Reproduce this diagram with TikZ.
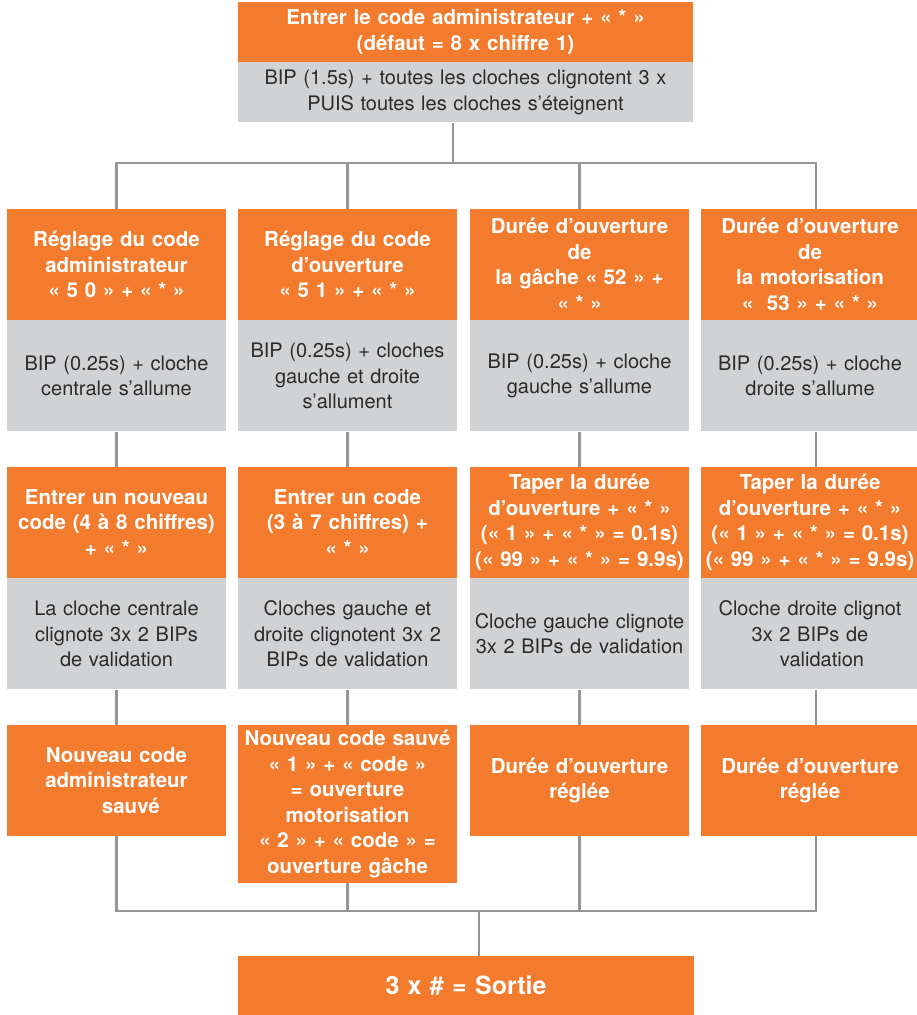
\documentclass[tikz,border=0pt]{standalone}
\usepackage{fontspec}
\setmainfont{TeX Gyre Heros}
\usetikzlibrary{positioning}
\definecolor{orangebox}{HTML}{F37B2E}
\definecolor{graybox}{HTML}{D1D2D4}
\definecolor{linegray}{HTML}{939598}
\definecolor{textgray}{HTML}{2B2B2B}

\begin{document}
\begin{tikzpicture}[x=1pt, y=-1pt,
	hdr/.style={fill=orangebox, text=white, font=\fontsize{20.5}{25.5}\selectfont\bfseries,
		align=center, minimum width=219pt, minimum height=111pt, inner sep=0pt, text width=217pt},
	msg/.style={hdr, fill=graybox, text=textgray, font=\fontsize{20}{25.5}\selectfont},
	wide/.style={minimum width=455pt, minimum height=60pt, text width=450pt},
	link/.style={draw=linegray, line width=2.2pt}]
			%%%%% START %%%%%
			\useasboundingbox (0, 0) rectangle (917, 1015);
			
			\node[hdr, wide] (start) at (465.5, 32) {Entrer le code administrateur + « * »\\(défaut = 8 x chiffre 1)};
			\node[msg, wide, below=0pt of start] (startmsg) {BIP (1.5s) + toutes les cloches clignotent 3 x\\PUIS toutes les cloches s’éteignent};
			
			% menus
			\node[hdr] (adm) at (116.5, 264.5) {Réglage du code\\administrateur\\« 5 0 » + « * »};
			\node[msg, below=0pt of adm] (admmsg) {BIP (0.25s) + cloche\\centrale s’allume};
			
			\node[hdr] (code) at (347.5, 264.5) {Réglage du code\\d’ouverture\\« 5 1 » + « * »};
			\node[msg, below=0pt of code] (codemsg) {BIP (0.25s) + cloches\\gauche et droite\\s’allument};
			
			\node[hdr] (gache) at (579.5, 264.5) {Durée d’ouverture\\de\\la gâche « 52 » +\\« * »};
			\node[msg, below=0pt of gache] (gachemsg) {BIP (0.25s) + cloche\\gauche s’allume};
			
			\node[hdr] (mot) at (810, 264.5) {Durée d’ouverture\\de\\la motorisation\\«~~53 » + « * »};
			\node[msg, below=0pt of mot] (motmsg) {BIP (0.25s) + cloche\\droite s’allume};
			
			% saisie
			\node[hdr] (admnew) at (116.5, 522.5) {Entrer un nouveau\\code (4 à 8 chiffres)\\+ « * »};
			\node[msg, below=0pt of admnew] (admnewmsg) {La cloche centrale\\clignote 3x 2 BIPs\\de validation};
			
			\node[hdr] (codenew) at (347.5, 522.5) {Entrer un code\\(3 à 7 chiffres) +\\« * »};
			\node[msg, below=0pt of codenew] (codenewmsg) {Cloches gauche et\\droite clignotent 3x 2\\BIPs de validation};
			
			\node[hdr] (gacheset) at (579.5, 522.5) {Taper la durée\\d’ouverture + « * »\\(« 1 » + « * » = 0.1s)\\(« 99 » + « * » = 9.9s)};
			\node[msg, below=0pt of gacheset] (gachesetmsg) {Cloche gauche clignote\\3x 2 BIPs de validation};
			
			\node[hdr] (motset) at (810, 522.5) {Taper la durée\\d’ouverture + « * »\\(« 1 » + « * » = 0.1s)\\(« 99 » + « * » = 9.9s)};
			\node[msg, below=0pt of motset] (motsetmsg) {Cloche droite clignot\\3x 2 BIPs de\\\hspace*{1.2em}validation};
			
			% fin
			\node[hdr] (admdone) at (116.5, 780.5) {Nouveau code\\administrateur\\\hspace*{1.4em}sauvé};
			\node[hdr, minimum height=158pt] (codedone) at (347.5, 804) {Nouveau code sauvé\\« 1 » + « code »\\= ouverture\\motorisation\\« 2 » + « code » =\\ouverture gâche};
			\node[hdr] (gachedone) at (579.5, 780.5) {Durée d’ouverture\\réglée};
			\node[hdr] (motdone) at (810, 780.5) {Durée d’ouverture\\réglée};
			
			\node[hdr, wide, minimum width=456pt, minimum height=60pt, font=\fontsize{25}{30}\selectfont\bfseries] (exit) at (466, 986) {3 x \# = Sortie};
			
			\coordinate (topbus) at (453, 163);
			\coordinate (botbus) at (479, 911);
			
			% liaisons
			\draw[link] (startmsg.south -| topbus) -- (topbus);
			\draw[link] (adm.north) -- (adm.north |- topbus) -- ([xshift=6pt]mot.north |- topbus) -- ([xshift=6pt]mot.north);
			\draw[link] (code.north) -- (code.north |- topbus);
			\draw[link] (gache.north) -- (gache.north |- topbus);
			
			\draw[link] (admmsg) -- (admnew);
			\draw[link] (codemsg) -- (codenew);
			\draw[link] (gachemsg) -- (gacheset);
			\draw[link] ([xshift=6pt]motmsg.south) -- ([xshift=6pt]motset.north);
			
			\draw[link] (admnewmsg) -- (admdone);
			\draw[link] (codenewmsg) -- (codedone);
			\draw[link] (gachesetmsg) -- (gachedone);
			\draw[link] ([xshift=6pt]motsetmsg.south) -- ([xshift=6pt]motdone.north);
			
			\draw[link] (admdone.south) -- (admdone.south |- botbus) -- ([xshift=6pt]motdone.south |- botbus) -- ([xshift=6pt]motdone.south);
			\draw[link] (codedone.south) -- (codedone.south |- botbus);
			\draw[link] (gachedone.south) -- (gachedone.south |- botbus);
			\draw[link] (botbus) -- (exit.north -| botbus);
			
			%%%%% END %%%%%
\end{tikzpicture}
\end{document}
